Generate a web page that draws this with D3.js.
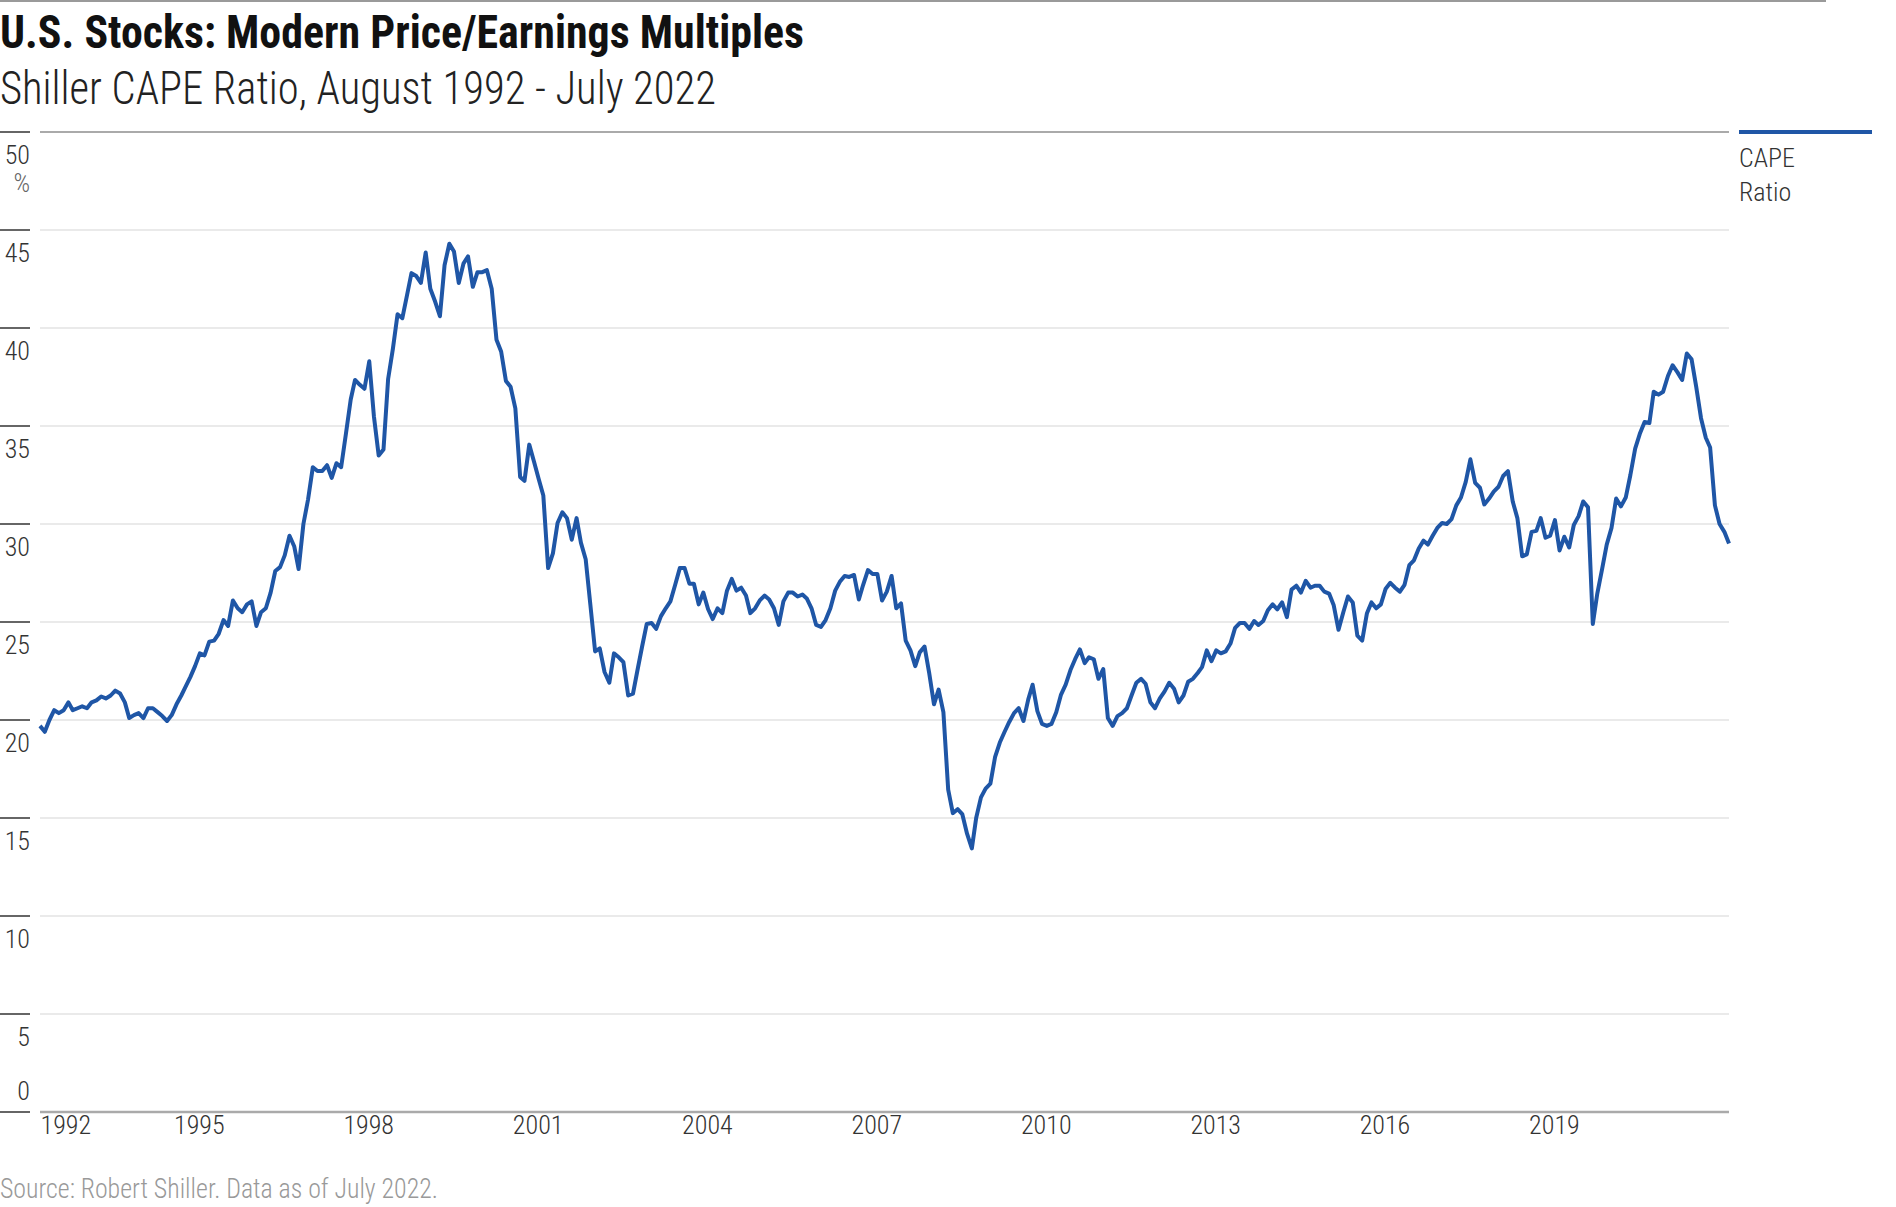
<!DOCTYPE html>
<html><head><meta charset="utf-8">
<script src="https://cdn.jsdelivr.net/npm/d3@7"></script>
<style>
body{margin:0;background:#fff;}
svg text{font-family:"Liberation Sans Narrow","Arial Narrow","Roboto Condensed","DejaVu Sans Condensed",sans-serif;}
</style></head><body>
<svg id="chart" width="1896" height="1207"></svg>
<script>
const titleText = "U.S. Stocks: Modern Price/Earnings Multiples";
const subtitleText = "Shiller CAPE Ratio, August 1992 - July 2022";
const sourceText = "Source: Robert Shiller. Data as of July 2022.";
const seriesName = ["CAPE", "Ratio"];
const startYear = 1992, startMonth = 7; // August 1992
const capeRatio = [
19.7,19.4,20.0,20.5,20.35,20.5,20.9,20.5,20.6,20.7,
20.6,20.9,21.0,21.2,21.1,21.25,21.5,21.35,20.9,20.1,
20.25,20.35,20.1,20.6,20.6,20.4,20.2,19.95,20.25,20.8,
21.25,21.7,22.2,22.75,23.4,23.3,24.0,24.05,24.4,25.1,
24.8,26.1,25.7,25.5,25.9,26.05,24.8,25.5,25.7,26.5,
27.6,27.8,28.4,29.4,28.85,27.7,30.0,31.25,32.9,32.7,
32.7,33.0,32.35,33.1,32.9,34.6,36.35,37.35,37.1,36.9,
38.3,35.5,33.5,33.8,37.4,38.95,40.7,40.5,41.7,42.8,
42.65,42.3,43.85,42.0,41.35,40.6,43.2,44.3,43.9,42.3,
43.3,43.65,42.1,42.85,42.85,42.95,42.0,39.4,38.8,37.3,
37.0,35.9,32.4,32.2,34.05,33.2,32.3,31.45,27.75,28.5,
30.05,30.6,30.3,29.2,30.3,29.05,28.2,25.9,23.5,23.65,
22.45,21.9,23.4,23.2,
22.95,21.25,21.35,22.5,23.75,24.9,24.95,24.65,25.3,25.7,
26.05,26.9,27.75,27.75,26.95,26.95,25.9,26.5,25.65,25.15,
25.7,25.45,26.6,27.2,26.6,26.75,26.35,25.45,25.7,26.1,
26.35,26.15,25.7,24.85,26.05,26.5,26.5,26.3,26.4,26.2,
25.7,24.85,24.75,25.1,25.7,26.6,27.05,27.35,27.3,27.4,
26.15,26.9,27.65,27.45,27.45,26.1,26.55,27.35,25.7,25.95,
24.05,
23.55,22.75,23.45,23.75,22.4,20.8,21.55,20.4,16.45,15.25,
15.45,15.2,14.2,13.45,15.0,16.05,16.5,16.75,18.1,18.85,
19.4,19.9,20.35,20.6,19.95,21.05,21.8,20.45,19.8,19.7,
19.8,20.4,21.3,21.8,22.55,23.1,23.6,22.9,23.2,23.1,
22.1,22.6,20.1,19.7,20.2,20.35,20.6,21.25,21.9,22.1,
21.85,20.9,20.6,21.1,21.45,21.9,21.6,20.9,21.25,21.95,
22.1,22.4,22.7,23.55,23.0,23.55,23.4,23.5,23.9,24.7,
24.95,24.95,24.65,25.05,24.85,25.05,25.6,25.9,25.65,26.0,
25.25,26.65,26.85,26.5,27.1,26.75,26.85,26.85,26.55,26.45,
25.85,24.6,25.5,26.3,26.0,24.3,24.05,25.45,26.0,25.7,
25.9,26.7,27.0,26.75,26.55,26.9,27.9,28.15,28.75,29.15,
28.95,29.4,29.8,30.05,30.0,30.25,30.95,31.35,32.15,33.3,
32.1,
31.85,31.0,31.3,31.65,31.9,32.45,32.7,31.15,30.3,28.35,
28.45,29.6,29.65,30.3,29.3,29.4,30.2,28.65,29.35,28.8,
29.95,30.4,31.15,30.85,24.9,26.45,27.7,28.95,29.8,31.3,
30.9,31.35,32.5,33.85,34.6,35.2,35.15,36.75,36.6,36.75,
37.55,38.1,37.75,37.35,38.7,38.4,37.0,35.4,34.4,33.9,
30.95,30.0,29.6,29.0
];
const yTickValues = [0,5,10,15,20,25,30,35,40,45,50];
const xTickLabels = ["1992","1995","1998","2001","2004","2007","2010","2013","2016","2019"];

(function draw() {
const months = capeRatio.map((v,i) => new Date(startYear, startMonth + i, 1));
const data = capeRatio.map((v,i) => ({date: months[i], value: v}));
const xTickDates = xTickLabels.map((l,i) => i === 0 ? months[0] : new Date(+l, 0, 1));

const svg = d3.select("#chart");
const pLeft = 40, pRight = 1729, pTop = 132, pBottom = 1112;
const x = d3.scaleTime().domain([months[0], months[months.length-1]]).range([pLeft, pRight]);
const y = d3.scaleLinear().domain([0, 50]).range([pBottom, pTop]);

const blue = "#1f56a6";
svg.append("line").attr("x1",0).attr("x2",1826).attr("y1",1).attr("y2",1)
  .attr("stroke","#9a9a9a").attr("stroke-width",2);

svg.append("text").attr("x",0).attr("y",48).text(titleText)
  .attr("font-size",46).attr("font-weight","bold").attr("fill","#111")
  .attr("textLength",804).attr("lengthAdjust","spacingAndGlyphs");
svg.append("text").attr("x",0).attr("y",104).text(subtitleText)
  .attr("font-size",46).attr("font-weight",300).attr("fill","#222")
  .attr("textLength",716).attr("lengthAdjust","spacingAndGlyphs");

svg.append("g").selectAll("line").data(yTickValues.filter(v => v > 0 && v < 50)).join("line")
  .attr("x1",pLeft).attr("x2",pRight).attr("y1",d=>y(d)).attr("y2",d=>y(d))
  .attr("stroke","#e3e3e3").attr("stroke-width",1.5);
svg.append("line").attr("x1",pLeft).attr("x2",pRight).attr("y1",y(50)).attr("y2",y(50))
  .attr("stroke","#aaaaaa").attr("stroke-width",2);

svg.append("g").selectAll("line").data(yTickValues).join("line")
  .attr("x1",0).attr("x2",30).attr("y1",d=>y(d)).attr("y2",d=>y(d))
  .attr("stroke","#666").attr("stroke-width",2);
svg.append("g").selectAll("text").data(yTickValues).join("text")
  .attr("x",30).attr("y",d => d === 0 ? y(d) - 12 : y(d) + 32)
  .attr("text-anchor","end").attr("font-size",26).attr("font-weight",300).attr("fill","#333").text(d=>d);
svg.append("text").attr("x",30).attr("y",y(50)+60).attr("text-anchor","end")
  .attr("font-size",26).attr("font-weight",300).attr("fill","#666").text("%");

const xAxis = d3.axisBottom(x).tickValues(xTickDates).tickSize(0)
  .tickFormat((d,i) => xTickLabels[i]);
const gx = svg.append("g").attr("transform",`translate(0,${pBottom})`).call(xAxis);
gx.select(".domain").remove();
gx.attr("font-family",null).attr("font-size",null);
gx.selectAll("text").attr("text-anchor","start").attr("dy",null).attr("y",22)
  .attr("x",(d,i) => i === 0 ? 0 : -3)
  .attr("font-size",26).attr("font-weight",300).attr("fill","#333");
svg.append("line").attr("x1",pLeft).attr("x2",pRight).attr("y1",pBottom).attr("y2",pBottom)
  .attr("stroke","#aaaaaa").attr("stroke-width",2.5);

const line = d3.line().x(d=>x(d.date)).y(d=>y(d.value));
svg.append("path").datum(data).attr("d",line).attr("fill","none")
  .attr("stroke",blue).attr("stroke-width",4).attr("stroke-linejoin","round");

svg.append("line").attr("x1",1739).attr("x2",1872).attr("y1",y(50)).attr("y2",y(50))
  .attr("stroke",blue).attr("stroke-width",4);
svg.append("g").selectAll("text").data(seriesName).join("text")
  .attr("x",1739).attr("y",(d,i)=>167 + i*34).attr("font-size",26).attr("font-weight",300)
  .attr("fill","#333").text(d=>d);

svg.append("text").attr("x",0).attr("y",1198).text(sourceText)
  .attr("font-size",27).attr("font-weight",300).attr("fill","#999")
  .attr("textLength",438).attr("lengthAdjust","spacingAndGlyphs");
})();
</script>
</body></html>
